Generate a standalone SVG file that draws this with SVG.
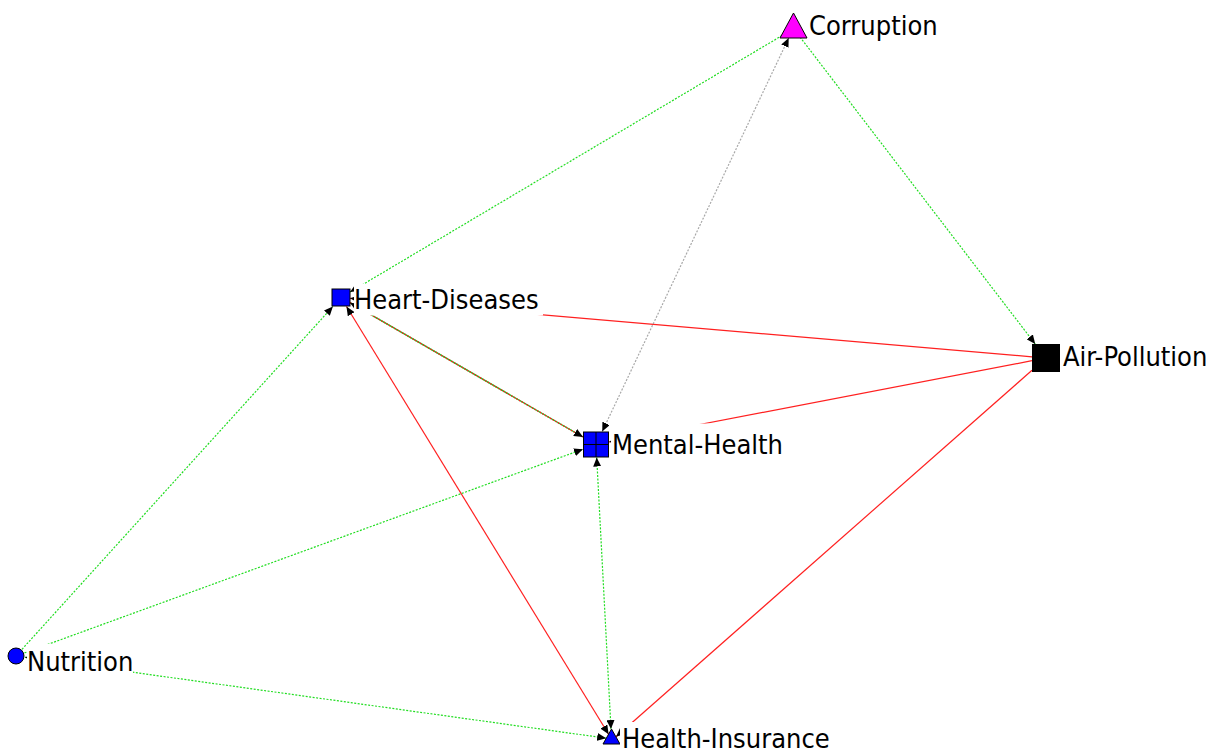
<svg xmlns="http://www.w3.org/2000/svg" width="1213" height="751" viewBox="0 0 1213 751">
<style>
.lbl{font-family:"DejaVu Sans Condensed","DejaVu Sans",sans-serif;font-stretch:condensed;font-size:27px;fill:#000}
.bg{fill:#fff}
.g{stroke:#22dd22;stroke-width:1.2;stroke-dasharray:2 1.5;fill:none}
.r{stroke:#ff2020;stroke-width:1.2;fill:none}
.gy{stroke:#a8a8a8;stroke-width:1.2;stroke-dasharray:2 1.5;fill:none}
.node{stroke:#000;stroke-width:1}
</style>
<defs>
<marker id="ah" markerUnits="userSpaceOnUse" markerWidth="10" markerHeight="8" refX="9" refY="4" orient="auto-start-reverse">
<path d="M0,0 L9,4 L0,8 z" fill="#000"/>
</marker>
</defs>
<rect width="1213" height="751" fill="#fff"/>
<g id="edges">
<line class="g" x1="22" y1="649.3" x2="332.9" y2="306.5" marker-end="url(#ah)"/>
<line class="g" x1="24.5" y1="652.9" x2="583" y2="449.2" marker-end="url(#ah)"/>
<line class="g" x1="24.9" y1="657.2" x2="606.2" y2="738.2" marker-start="url(#ah)" marker-end="url(#ah)"/>
<line class="g" x1="350" y1="292.1" x2="783" y2="35" marker-start="url(#ah)"/>
<line x1="350" y1="302.7" x2="583" y2="437" stroke="#22bb22" stroke-width="1.4"/>
<line x1="350" y1="302.7" x2="583" y2="437" stroke="#ff2020" stroke-width="1.4" stroke-dasharray="1.5 1.5" marker-start="url(#ah)" marker-end="url(#ah)"/>
<line class="r" x1="346.5" y1="306.5" x2="608.6" y2="734.2" marker-start="url(#ah)" marker-end="url(#ah)"/>
<line class="r" x1="1032" y1="356.8" x2="350" y2="298.3" marker-end="url(#ah)"/>
<line class="r" x1="1032" y1="360.7" x2="609" y2="442" marker-end="url(#ah)"/>
<line class="r" x1="1032" y1="370.3" x2="616" y2="736.7" marker-end="url(#ah)"/>
<line class="gy" x1="602.2" y1="431.5" x2="788.7" y2="38" marker-start="url(#ah)" marker-end="url(#ah)"/>
<line class="g" x1="596.7" y1="457.5" x2="611" y2="729" marker-start="url(#ah)" marker-end="url(#ah)"/>
<line class="g" x1="800" y1="37" x2="1035.2" y2="344" marker-end="url(#ah)"/>
</g>
<g id="corruption">
<polygon class="node" points="780,38 807,38 793.5,13" fill="#ff00ff"/>
<rect class="bg" x="808" y="8" width="134" height="34"/>
<text class="lbl" x="809" y="35">Corruption</text>
</g>
<g id="heart-diseases">
<rect class="node" x="332" y="289" width="18" height="17" fill="#0000ff"/>
<rect class="bg" x="354" y="284" width="189" height="31.5"/>
<text class="lbl" x="354" y="309">Heart-Diseases</text>
</g>
<g id="mental-health">
<rect class="node" x="583.5" y="432" width="25" height="25" fill="#0000ff"/>
<line x1="596" y1="432" x2="596" y2="457" stroke="#000" stroke-width="1"/>
<line x1="583.5" y1="444.5" x2="608.5" y2="444.5" stroke="#000" stroke-width="1"/>
<rect class="bg" x="611" y="423.5" width="178" height="38"/>
<text class="lbl" x="612" y="454">Mental-Health</text>
</g>
<g id="air-pollution">
<rect x="1032" y="344" width="28" height="28" fill="#000"/>
<rect class="bg" x="1062" y="340" width="151" height="33"/>
<text class="lbl" x="1063" y="366">Air-Pollution</text>
</g>
<g id="nutrition">
<circle class="node" cx="16" cy="656" r="8" fill="#0000ff"/>
<rect class="bg" x="27" y="644" width="106" height="34"/>
<text class="lbl" x="27" y="671">Nutrition</text>
</g>
<g id="health-insurance">
<polygon class="node" points="603,744 620,744 611.5,729" fill="#0000ff"/>
<rect class="bg" x="620" y="722" width="220" height="29"/>
<text class="lbl" x="622" y="748">Health-Insurance</text>
</g>
</svg>
